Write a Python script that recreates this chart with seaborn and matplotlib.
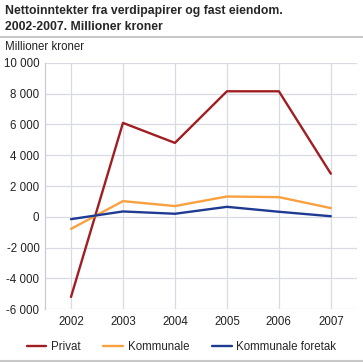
import pandas as pd
import matplotlib
matplotlib.use("Agg")
import matplotlib.pyplot as plt
import seaborn as sns
from matplotlib.lines import Line2D

years = [2002, 2003, 2004, 2005, 2006, 2007]
privat = [-5200, 6100, 4800, 8150, 8150, 2800]
kommunale = [-780, 1020, 700, 1320, 1280, 570]
foretak = [-150, 350, 200, 650, 330, 40]
series_names = ["Privat", "Kommunale", "Kommunale foretak"]
colors = ["#a01e22", "#f9a03f", "#1f3a93"]
yticks = [-6000, -4000, -2000, 0, 2000, 4000, 6000, 8000, 10000]
ytick_labels = ["-6 000", "-4 000", "-2 000", "0", "2 000", "4 000", "6 000", "8 000", "10 000"]

df = pd.DataFrame({
    "year": years * 3,
    "value": privat + kommunale + foretak,
    "serie": [n for n in series_names for _ in years],
})

sns.set_style("white")
plt.rcParams["font.family"] = ["Liberation Sans", "DejaVu Sans"]

fig = plt.figure(figsize=(3.63, 3.63), dpi=100)
ax = fig.add_axes([0.124, 0.148, 0.859, 0.679])

sns.lineplot(data=df, x="year", y="value", hue="serie", palette=colors,
             hue_order=series_names, linewidth=1.7, ax=ax, legend=False)

ax.set_xlim(2001.5, 2007.5)
ax.set_ylim(-6000, 10000)
ax.set_xticks(years)
ax.set_xticklabels([str(y) for y in years])
ax.set_yticks(yticks)
ax.set_yticklabels(ytick_labels)
ax.tick_params(axis="both", length=0, labelsize=8.3, colors="#222222")
ax.tick_params(axis="x", pad=5)
ax.tick_params(axis="y", pad=4)
ax.grid(True, color="#d8dbe3", linewidth=0.9)
ax.set_axisbelow(True)
for s in ["top", "right", "bottom"]:
    ax.spines[s].set_visible(False)
ax.spines["left"].set_color("#c8ccd6")
ax.spines["left"].set_linewidth(0.9)
ax.set_xlabel("")
ax.set_ylabel("")

fig.text(0.014, 0.985, "Nettoinntekter fra verdipapirer og fast eiendom.\n2002-2007. Millioner kroner",
         fontsize=8.8, fontweight="bold", va="top", ha="left", linespacing=1.35)
fig.add_artist(Line2D([0, 1], [0.899, 0.899], color="#c8c8c8", linewidth=1.5))
fig.add_artist(Line2D([0, 1], [0.006, 0.006], color="#c8c8c8", linewidth=1.5))
fig.text(0.014, 0.871, "Millioner kroner", fontsize=8.3, va="center", ha="left", color="#222222")

handles = [Line2D([0], [0], color=c, linewidth=1.7) for c in colors]
fig.legend(handles, series_names, loc="center", bbox_to_anchor=(0.5, 0.044), ncol=3,
           frameon=False, fontsize=8.3, handlelength=1.7, columnspacing=2.0, handletextpad=0.4)

fig.savefig("out.png", dpi=100)
